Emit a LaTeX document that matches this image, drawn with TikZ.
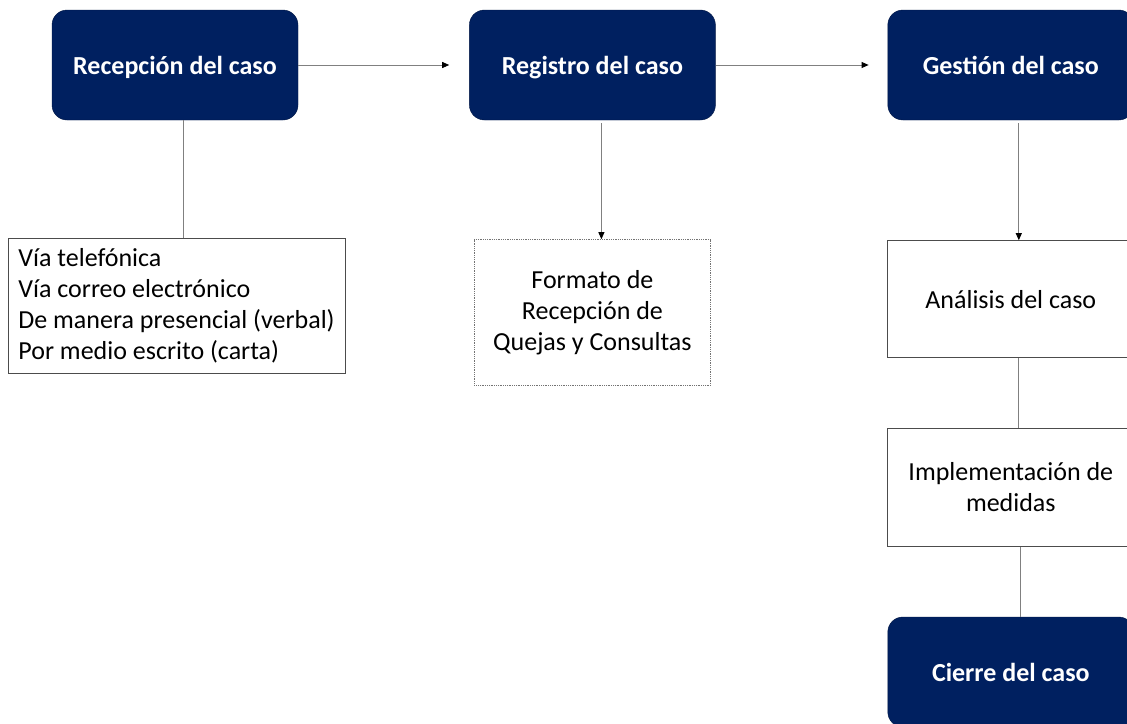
\documentclass[tikz,border=0pt]{standalone}
\usepackage{fontspec}
\setmainfont{Carlito}
\usetikzlibrary{positioning,arrows.meta}
\definecolor{navy}{RGB}{0,32,96}
\definecolor{linegray}{RGB}{128,128,128}
\tikzstyle{stage}=[rectangle, rounded corners=15pt, fill=navy, draw=navy!70!black, text=white, font=\fontsize{26}{30}\selectfont\bfseries, text height=20pt, text depth=2pt, minimum width=246pt, minimum height=110pt, inner sep=0pt]
\tikzstyle{info}=[rectangle, draw=black!70, line width=0.8pt, fill=white, font=\fontsize{26}{31}\selectfont, inner sep=0pt, align=center]
\tikzstyle{link}=[draw=linegray, line width=0.8pt]
\tikzstyle{post}=[link, -{Triangle[length=7pt,width=6pt,color=black]}]

\begin{document}
\begin{tikzpicture}[
    x=1pt, y=-1pt,
    node distance=171pt
    ]
    \useasboundingbox (0,0) rectangle (1127,723);
    \node[stage] (recep) at (175,65) {Recepción del caso};
    \node[stage, right=of recep] (regis) {Registro del caso};
    \node[stage, right=172pt of regis] (gest) {Gestión del caso};

    \node[info, align=left, minimum width=337pt, minimum height=135pt, below=118pt of recep, xshift=1.5pt] (vias) {Vía telefónica\\Vía correo electrónico\\De manera presencial (verbal)\\Por medio escrito (carta)};
    \node[info, draw=black!55, densely dotted, minimum width=236pt, minimum height=146pt, below=119pt of regis] (formato) {Formato de\\Recepción de\\Quejas y Consultas};
    \node[info, minimum width=246pt, minimum height=117pt, below=120pt of gest] (analisis) {Análisis del caso};
    \node[info, minimum width=246pt, minimum height=118pt, below=70pt of analisis] (implem) {Implementación de\\medidas};
    \node[stage, below=70pt of implem] (cierre) {Cierre del caso};

    \path
    (recep) edge [post, shorten >=20pt] (regis)
    (regis) edge [post, shorten >=19pt] (gest)
    ([xshift=8pt]recep.south) edge [link] ([xshift=6.5pt]vias.north)
    ([xshift=9pt]regis.south) edge [post, shorten <=3pt] ([xshift=9pt]formato.north)
    ([xshift=8pt]gest.south) edge [post, shorten <=3pt] ([xshift=8pt]analisis.north)
    ([xshift=8pt]analisis.south) edge [link] ([xshift=8pt]implem.north)
    ([xshift=10pt]implem.south) edge [link] ([xshift=10pt]cierre.north)
    ;
\end{tikzpicture}
\end{document}
